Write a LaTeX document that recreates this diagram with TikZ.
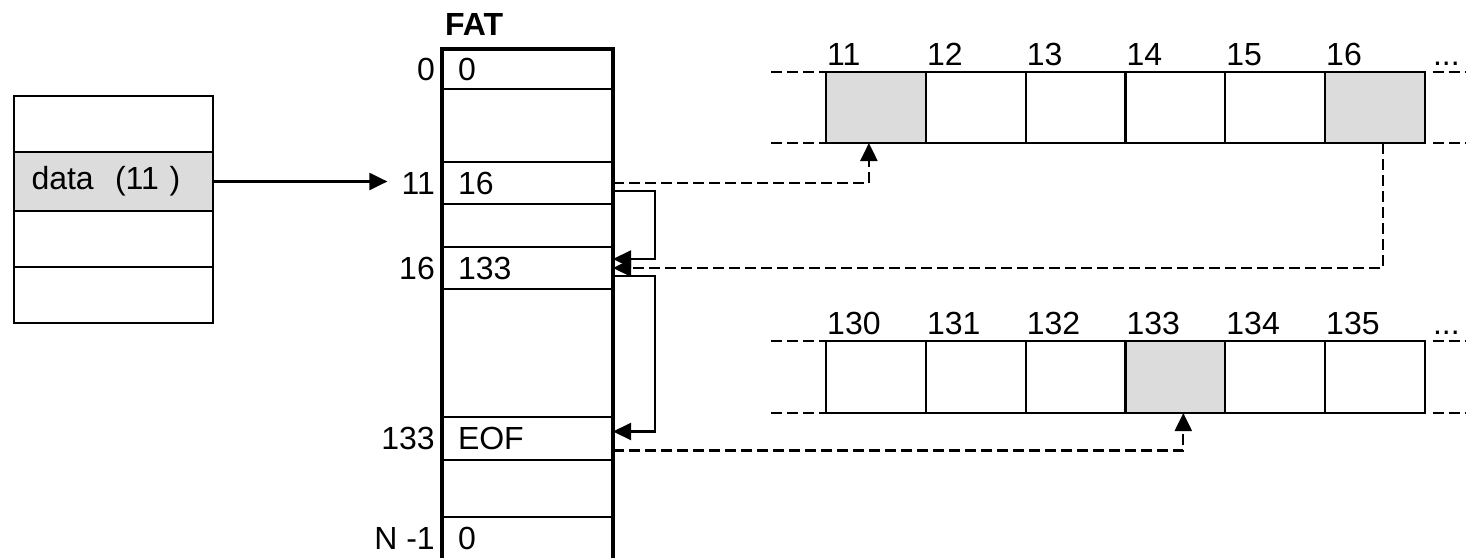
\documentclass[tikz,border=0pt]{standalone}
\usepackage{fontspec}
\setmainfont{Liberation Sans}
\usepackage{xcolor}
\usepackage{tikz}
\usetikzlibrary{positioning,arrows.meta}
\definecolor{cellgray}{HTML}{DCDCDC}

\begin{document}
\begin{tikzpicture}[x=1pt, y=-1pt, font=\fontsize{32}{38}\selectfont,
    datarow/.style={draw, line width=2.2pt, outer sep=0pt, minimum width=199pt, text width=164pt, inner xsep=17.5pt, inner ysep=0pt, align=left},
    fatrow/.style={draw, line width=2.2pt, outer sep=0pt, minimum width=171pt, text width=139pt, inner xsep=16pt, inner ysep=0pt, align=left},
    idx/.style={inner sep=0pt},
    cell/.style={draw, line width=2.2pt, outer sep=0pt, minimum width=99.8pt, minimum height=71pt, inner sep=0pt},
    cellnum/.style={anchor=south west, inner sep=0pt, xshift=1pt, yshift=6pt},
    ext/.style={line width=2.2pt, dash pattern=on 11pt off 5pt},
    link/.style={line width=2.2pt, -{Triangle[length=18pt,width=17pt]}},
    ptr/.style={line width=2.2pt, dash pattern=on 11pt off 5pt, -{Triangle[length=18pt,width=17pt]}}]
    \useasboundingbox (0,0) rectangle (1466,557);
    \clip (0,0) rectangle (1466,557);

    % directory entry
    \node[datarow, minimum height=56pt, anchor=north west] (d1) at (14,96) {};
    \node[datarow, fill=cellgray, minimum height=59pt, below=0pt of d1] (d2) {data~~(11~)};
    \node[datarow, minimum height=56pt, below=0pt of d2] (d3) {};
    \node[datarow, minimum height=56pt, below=0pt of d3] (d4) {};

    % the FAT
    \node[fatrow, minimum height=40pt, anchor=north west] (f0) at (442,49) {0};
    \node[fatrow, minimum height=73pt, below=0pt of f0] (fa) {};
    \node[fatrow, minimum height=42pt, below=0pt of fa] (f11) {16};
    \node[fatrow, minimum height=43pt, below=0pt of f11] (fb) {};
    \node[fatrow, minimum height=42pt, below=0pt of fb] (f16) {133};
    \node[fatrow, minimum height=128pt, below=0pt of f16] (fc) {};
    \node[fatrow, minimum height=43pt, below=0pt of fc] (f133) {EOF};
    \node[fatrow, minimum height=57pt, below=0pt of f133] (fd) {};
    \node[fatrow, minimum height=43pt, below=0pt of fd] (fn) {0};
    \draw[line width=4.5pt] (f0.north west) rectangle (fn.south east);
    \node[font=\fontsize{32}{38}\selectfont\bfseries, inner sep=0pt, anchor=south west] (fat)
        at ([xshift=3pt,yshift=13pt]f0.north west) {FAT};

    \node[idx, left=7pt of f0] (i0) {0};
    \node[idx, left=7pt of f11] (i11) {11};
    \node[idx, left=7pt of f16] (i16) {16};
    \node[idx, left=7pt of f133] (i133) {133};
    \node[idx, left=7pt of fn] (in) {N -1};

    % clusters 11 to 16
    \node[cell, fill=cellgray, anchor=north west, label={[cellnum]north west:11}] (s11) at (826,72) {};
    \node[cell, right=0pt of s11, label={[cellnum]north west:12}] (s12) {};
    \node[cell, right=0pt of s12, label={[cellnum]north west:13}] (s13) {};
    \node[cell, right=0pt of s13, label={[cellnum]north west:14}] (s14) {};
    \node[cell, right=0pt of s14, label={[cellnum]north west:15}] (s15) {};
    \node[cell, fill=cellgray, right=0pt of s15, label={[cellnum]north west:16}] (s16) {};
    \node[cellnum] (sdots) at ([xshift=7pt]s16.north east) {...};
    \draw[ext] ([xshift=-55pt]s11.north west) -- (s11.north west);
    \draw[ext] ([xshift=-55pt]s11.south west) -- (s11.south west);
    \draw[ext] ([xshift=8pt]s16.north east) -- ++(45,0);
    \draw[ext] ([xshift=8pt]s16.south east) -- ++(45,0);

    % clusters 130 to 135
    \node[cell, minimum height=72pt, anchor=north west, label={[cellnum]north west:130}] (t130) at (826,341) {};
    \node[cell, minimum height=72pt, right=0pt of t130, label={[cellnum]north west:131}] (t131) {};
    \node[cell, minimum height=72pt, right=0pt of t131, label={[cellnum]north west:132}] (t132) {};
    \node[cell, minimum height=72pt, fill=cellgray, right=0pt of t132, label={[cellnum]north west:133}] (t133) {};
    \node[cell, minimum height=72pt, right=0pt of t133, label={[cellnum]north west:134}] (t134) {};
    \node[cell, minimum height=72pt, right=0pt of t134, label={[cellnum]north west:135}] (t135) {};
    \node[cellnum] (tdots) at ([xshift=7pt]t135.north east) {...};
    \draw[ext] ([xshift=-55pt]t130.north west) -- (t130.north west);
    \draw[ext] ([xshift=-55pt]t130.south west) -- (t130.south west);
    \draw[ext] ([xshift=8pt]t135.north east) -- ++(45,0);
    \draw[ext] ([xshift=8pt]t135.south east) -- ++(45,0);

    % connectors
    \draw[link, shorten >=14pt] (d2.east) -- (d2.east -| i11.west);
    \draw[link] ([yshift=-8pt]f11.east) -- ++(42,0) |- ([yshift=9pt]f16.east);
    \draw[link] ([yshift=-8pt]f16.east) -- ++(42,0) |- ([yshift=7pt]f133.east);
    \draw[ptr] (f11.east) -| ([xshift=-7pt]s11.south);
    \draw[ptr] ([xshift=8pt]s16.south) |- (f16.east);
    \draw[ptr] ([yshift=-12pt]f133.east) -| ([xshift=8pt]t133.south);
\end{tikzpicture}
\end{document}
